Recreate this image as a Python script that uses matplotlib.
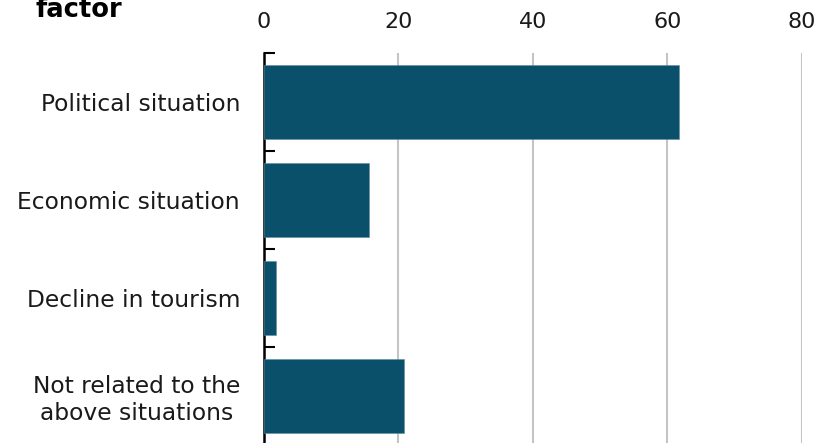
import matplotlib
matplotlib.use("Agg")
import matplotlib.pyplot as plt
import numpy as np

plt.rcParams["font.family"] = ["DejaVu Sans"]

categories = ["Political situation", "Economic situation", "Decline in tourism",
              "Not related to the\nabove situations"]
values = [61.7, 15.6, 1.9, 20.8]
xticks = [0, 20, 40, 60, 80]
title_text = "factor"

bar_color = "#0a506a"

fig = plt.figure(figsize=(8.19, 4.43), dpi=100)
W, H = 819, 443
left, right, top, bottom = 263.7, 801.7, 53, 445
ax = fig.add_axes([left / W, 1 - bottom / H, (right - left) / W, (bottom - top) / H])

y = np.arange(len(categories))
ax.barh(y, values, height=0.765, color=bar_color, edgecolor="#5f8fa5", linewidth=0.4, zorder=3)
ax.set_xlim(0, 80)
ax.set_ylim(len(categories) - 0.5, -0.5)

ax.set_xticks(xticks)
ax.xaxis.tick_top()
ax.tick_params(axis="x", length=0, pad=15, labelsize=16, labelcolor="#1a1a1a")
ax.grid(axis="x", color="#c4c4c4", linewidth=1.5, zorder=0)

ax.set_yticks(y)
ax.set_yticklabels(categories, fontsize=16.8, color="#1a1a1a", multialignment="center",
                   linespacing=1.22)
ax.tick_params(axis="y", which="major", length=0, pad=17)
ax.set_yticks(np.arange(-0.5, len(categories), 1.0), minor=True)
ax.tick_params(axis="y", which="minor", direction="in", length=8, width=1.5, color="black")

for s in ["top", "right", "bottom"]:
    ax.spines[s].set_visible(False)
ax.spines["left"].set_linewidth(1.8)
ax.spines["left"].set_color("black")

fig.text(35 / W, 1 - 17 / H, title_text, fontsize=18.5, fontweight="bold", ha="left", va="baseline")

fig.savefig("out.png", dpi=100)
